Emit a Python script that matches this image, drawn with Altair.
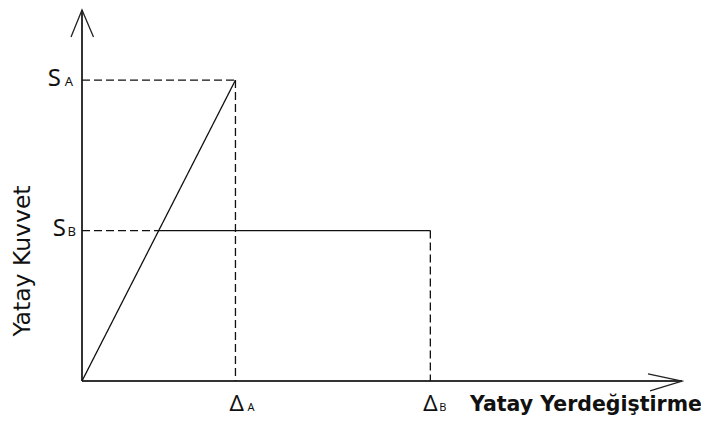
import altair as alt
import pandas as pd

# Values (relative units: ΔA = 1, SA = 1)
x_max = 3.91    # end of displacement axis (arrow tip)
y_max = 1.233   # end of force axis (arrow tip)

# diagram segments
seg_x1 = [0.0, 0.0, 1.0, 0.0, 0.5, 2.27]
seg_y1 = [0.0, 1.0, 1.0, 0.5, 0.5, 0.5]
seg_x2 = [1.0, 1.0, 1.0, 0.5, 2.27, 2.27]
seg_y2 = [1.0, 1.0, 0.0, 0.5, 0.5, 0.0]
seg_style = ["solid", "dashed", "dashed", "dashed", "solid", "dashed"]

# axes
ax_x1 = [0.0, 0.0]
ax_y1 = [0.0, 0.0]
ax_x2 = [x_max, 0.0]
ax_y2 = [0.0, y_max]

# tick labels
y_tick_vals = [1.0, 0.5]
y_tick_main = ["S", "S"]
y_tick_sub = ["A", "B"]
x_tick_vals = [1.0, 2.27]
x_tick_main = ["Δ", "Δ"]
x_tick_sub = ["A", "B"]

x_title = "Yatay Yerdeğiştirme"
y_title = "Yatay Kuvvet"

FONT = "DejaVu Sans"
LBL_FONT = "Noto Sans"
xs = alt.Scale(domain=[0, x_max], nice=False, zero=False)
ys = alt.Scale(domain=[0, y_max], nice=False, zero=False)

segs = pd.DataFrame({"x": seg_x1, "y": seg_y1, "x2": seg_x2, "y2": seg_y2, "style": seg_style})
axes = pd.DataFrame({"x": ax_x1, "y": ax_y1, "x2": ax_x2, "y2": ax_y2})
yt = pd.DataFrame({"v": y_tick_vals, "main": y_tick_main, "sub": y_tick_sub})
xt = pd.DataFrame({"v": x_tick_vals, "main": x_tick_main, "sub": x_tick_sub})

seg_layer = alt.Chart(segs).mark_rule(color="#111", strokeWidth=1.3).encode(
    x=alt.X("x:Q", scale=xs, axis=None),
    y=alt.Y("y:Q", scale=ys, axis=None),
    x2="x2:Q",
    y2="y2:Q",
    strokeDash=alt.StrokeDash("style:N", scale=alt.Scale(domain=["solid", "dashed"], range=[[1, 0], [8, 4]]), legend=None),
)

axis_layer = alt.Chart(axes).mark_rule(color="#333", strokeWidth=2).encode(
    x=alt.X("x:Q", scale=xs, axis=None),
    y=alt.Y("y:Q", scale=ys, axis=None),
    x2="x2:Q",
    y2="y2:Q",
)

# arrow heads at the axis tips
y_arrow = alt.Chart(pd.DataFrame({"x": [0.0], "y": [y_max]})).mark_point(
    shape="M -0.407 1 L 0 0 L 0.426 1", size=2916, filled=False, color="#222", strokeWidth=1.3, opacity=1
).encode(x=alt.X("x:Q", scale=xs, axis=None), y=alt.Y("y:Q", scale=ys, axis=None))

x_arrow = alt.Chart(pd.DataFrame({"x": [x_max], "y": [0.0]})).mark_point(
    shape="M -1 -0.21 L 0 0 L -0.94 0.29", size=4624, filled=False, color="#222", strokeWidth=1.3, opacity=1
).encode(x=alt.X("x:Q", scale=xs, axis=None), y=alt.Y("y:Q", scale=ys, axis=None))


def y_label(i, main_dx, sub_dx):
    d = yt.iloc[[i]]
    m = alt.Chart(d).mark_text(font=LBL_FONT, fontSize=24, align="right", baseline="alphabetic",
                               dx=main_dx, dy=5.5, color="#111").encode(
        x=alt.value(0), y=alt.Y("v:Q", scale=ys, axis=None), text="main:N")
    s = alt.Chart(d).mark_text(font=LBL_FONT, fontSize=13, align="right", baseline="alphabetic",
                               dx=sub_dx, dy=5.5, color="#111").encode(
        x=alt.value(0), y=alt.Y("v:Q", scale=ys, axis=None), text="sub:N")
    return [m, s]


def x_label(i, main_dx, sub_dx):
    d = xt.iloc[[i]]
    m = alt.Chart(d).mark_text(font=LBL_FONT, fontSize=22.5, align="left", baseline="alphabetic",
                               dx=main_dx, dy=29.5, color="#111").encode(
        x=alt.X("v:Q", scale=xs, axis=None), y=alt.value(371), text="main:N")
    s = alt.Chart(d).mark_text(font=LBL_FONT, fontSize=11, align="left", baseline="alphabetic",
                               dx=sub_dx, dy=30, color="#111").encode(
        x=alt.X("v:Q", scale=xs, axis=None), y=alt.value(371), text="sub:N")
    return [m, s]


labels = (y_label(0, -21, -9) + y_label(1, -16, -6)
          + x_label(0, -6, 12) + x_label(1, -7, 9))

# titles
xt_layer = alt.Chart(pd.DataFrame({"t": [x_title]})).mark_text(
    font=FONT, fontSize=20.5, fontWeight="bold", align="left", baseline="alphabetic", color="#111"
).encode(x=alt.value(388), y=alt.value(401), text="t:N")

yt_layer = alt.Chart(pd.DataFrame({"t": [y_title]})).mark_text(
    font=FONT, fontSize=23.5, angle=270, align="center", baseline="alphabetic", color="#111"
).encode(x=alt.value(-52), y=alt.value(251), text="t:N")

chart = alt.layer(
    axis_layer, seg_layer, y_arrow, x_arrow, *labels, xt_layer, yt_layer
).properties(
    width=600, height=371,
    autosize=alt.AutoSizeParams(type="none"),
    padding={"left": 74, "top": 2, "right": 19, "bottom": 35},
    background="white",
).configure_view(stroke=None)

chart.save("out.html", embed_options={"renderer": "svg", "actions": False})
